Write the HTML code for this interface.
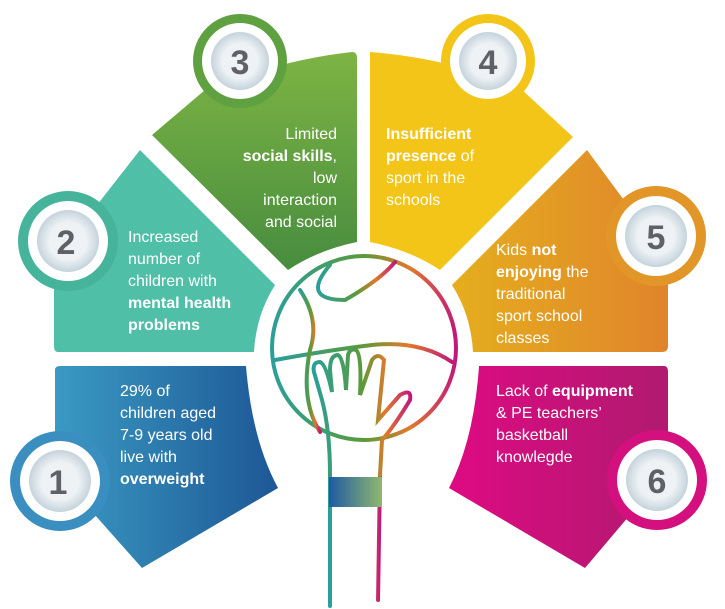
<!DOCTYPE html>
<html><head><meta charset="utf-8"><style>
body{margin:0;background:#fff;width:725px;height:609px;overflow:hidden}
svg{display:block}
text{font-family:"Liberation Sans",sans-serif;fill:#fff;font-size:16px}
.n{fill:#5f6166;font-size:34px;font-weight:bold;text-anchor:middle}
</style></head><body>
<svg width="725" height="609" viewBox="0 0 725 609">
<defs>
<linearGradient id="g1" x1="0" x2="1"><stop offset="0" stop-color="#3a9ac2"/><stop offset="1" stop-color="#1d5796"/></linearGradient>
<linearGradient id="g3" x1="0" y1="0" x2="0" y2="1"><stop offset="0" stop-color="#7db443"/><stop offset="1" stop-color="#478c3f"/></linearGradient>
<linearGradient id="g5" x1="0" x2="1"><stop offset="0" stop-color="#e5ae1e"/><stop offset="1" stop-color="#e0842b"/></linearGradient>
<linearGradient id="g6" x1="0" x2="1"><stop offset="0" stop-color="#de0a82"/><stop offset="1" stop-color="#b01a70"/></linearGradient>
<linearGradient id="hg" x1="0" x2="1"><stop offset="0" stop-color="#2a9f9a"/><stop offset="0.5" stop-color="#5a9a3a"/><stop offset="0.75" stop-color="#e07a2a"/><stop offset="1" stop-color="#c0197a"/></linearGradient>
<linearGradient id="wb" x1="0" x2="1"><stop offset="0" stop-color="#1f5aa3"/><stop offset="1" stop-color="#8fb870"/></linearGradient>
<radialGradient id="ic"><stop offset="0.6" stop-color="#eef2f5"/><stop offset="1" stop-color="#c5d3dc"/></radialGradient>
</defs>
<!-- pieces -->
<path d="M55 370 Q55 366 60 366 L246 366 Q252 440 278 488 L142 568 L55 470 Z" fill="url(#g1)"/>
<path d="M140 150 L275 285 Q256 315 254 352 L58 352 Q54 352 54 346 L54 260 Z" fill="#4fbfa7"/>
<path d="M152 135 L205 90 Q280 60 352 52 Q357 52 357 58 L357 242 Q318 250 288 270 Z" fill="url(#g3)"/>
<path d="M370 52 Q450 58 520 88 L573 137 L440 270 Q410 250 370 242 L370 58 Z" fill="#f2c518"/>
<path d="M587 150 L668 260 L668 346 Q668 352 662 352 L473 352 Q471 315 452 285 Z" fill="url(#g5)"/>
<path d="M479 366 L664 366 Q668 366 668 372 L668 470 L585 568 L449 488 Q474 440 479 366 Z" fill="url(#g6)"/>
<!-- circles -->
<g><circle cx="60" cy="481" r="50" fill="#3a8fc0"/><circle cx="60" cy="481" r="40" fill="#fff"/><circle cx="60" cy="481" r="31" fill="url(#ic)"/><text x="58" y="494" class="n">1</text></g>
<g><circle cx="68" cy="241" r="50" fill="#46b49b"/><circle cx="68" cy="241" r="40" fill="#fff"/><circle cx="68" cy="241" r="31" fill="url(#ic)"/><text x="66" y="254" class="n">2</text></g>
<g><circle cx="240" cy="61" r="47" fill="#5fa040"/><circle cx="240" cy="61" r="38" fill="#fff"/><circle cx="240" cy="61" r="29" fill="url(#ic)"/><text x="240" y="74" class="n">3</text></g>
<g><circle cx="488" cy="61" r="47" fill="#f2c518"/><circle cx="488" cy="61" r="38" fill="#fff"/><circle cx="488" cy="61" r="29" fill="url(#ic)"/><text x="488" y="74" class="n">4</text></g>
<g><circle cx="656" cy="236" r="50" fill="#e29628"/><circle cx="656" cy="236" r="40" fill="#fff"/><circle cx="656" cy="236" r="31" fill="url(#ic)"/><text x="656" y="249" class="n">5</text></g>
<g><circle cx="657" cy="480" r="50" fill="#d4107e"/><circle cx="657" cy="480" r="40" fill="#fff"/><circle cx="657" cy="480" r="31" fill="url(#ic)"/><text x="657" y="493" class="n">6</text></g>
<!-- ball & hand -->
<circle cx="364" cy="348" r="104" fill="#fff"/>
<g fill="none" stroke="url(#hg)" stroke-width="4" stroke-linecap="round">
<circle cx="364" cy="348" r="92"/>
<path d="M275 360 Q330 350 372 345 Q420 340 452 362"/>
<path d="M300 290 Q320 320 310 350 Q300 400 320 432"/>
<path d="M330 265 Q300 300 345 300 Q380 280 395 262"/>
<path d="M330 475 L330 606 M380 475 L378 600"/>
<path d="M330 475 Q330 430 322 400 L314 372 Q312 362 320 362 Q326 364 332 392 L330 370 Q330 355 338 355 Q344 358 346 390 L348 355 Q350 348 356 350 Q362 354 360 395 L372 360 Q378 352 384 360 L378 420 L400 395 Q412 388 410 400 Q395 425 382 440 L380 475"/>
</g>
<rect x="329" y="477" width="53" height="30" fill="url(#wb)"/>
<!-- text -->
<text x="120" y="396">29% of</text>
<text x="120" y="418">children aged</text>
<text x="120" y="440">7-9 years old</text>
<text x="120" y="462">live with</text>
<text x="120" y="484" font-weight="bold">overweight</text>
<text x="128" y="242">Increased</text>
<text x="128" y="264">number of</text>
<text x="128" y="286">children with</text>
<text x="128" y="308" font-weight="bold">mental health</text>
<text x="128" y="330" font-weight="bold">problems</text>
<g text-anchor="end"><text x="337" y="139">Limited</text>
<text x="337" y="161"><tspan font-weight="bold">social skills</tspan>,</text>
<text x="337" y="183">low</text>
<text x="337" y="205">interaction</text>
<text x="337" y="227">and social</text></g>
<text x="386" y="139" font-weight="bold">Insufficient</text>
<text x="386" y="161"><tspan font-weight="bold">presence</tspan> of</text>
<text x="386" y="183">sport in the</text>
<text x="386" y="205">schools</text>
<text x="496" y="255">Kids <tspan font-weight="bold">not</tspan></text>
<text x="496" y="277"><tspan font-weight="bold">enjoying</tspan> the</text>
<text x="496" y="299">traditional</text>
<text x="496" y="321">sport school</text>
<text x="496" y="343">classes</text>
<text x="496" y="396">Lack of <tspan font-weight="bold">equipment</tspan></text>
<text x="496" y="418">&amp; PE teachers’</text>
<text x="496" y="440">basketball</text>
<text x="496" y="462">knowlegde</text>
</svg>
</body></html>
